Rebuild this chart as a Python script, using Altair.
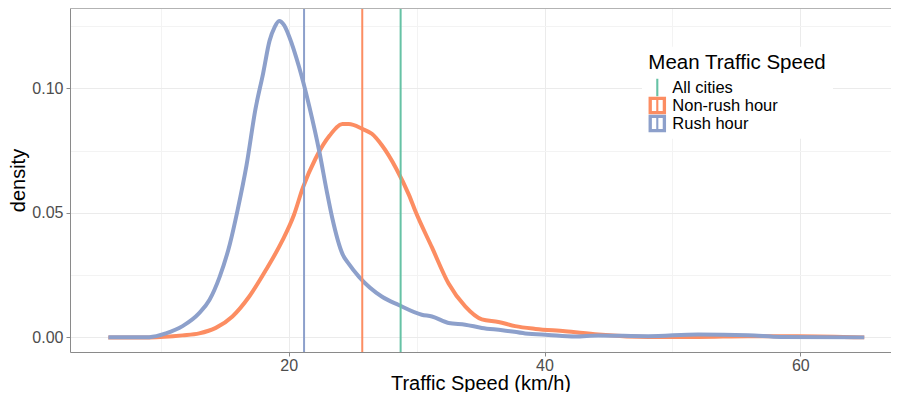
import altair as alt
import pandas as pd

# ---- data ----
series = ["All cities", "Non-rush hour", "Rush hour"]
colors = ["#66C2A5", "#FC8D62", "#8DA0CB"]

non_rush_speed = [5.9, 9.1, 11.7, 13.0, 14.3, 15.6, 16.9, 18.2, 19.5, 20.4, 21.1, 22.1, 23.2, 24.2,
                  24.7, 25.75, 26.5, 27.3, 28.4, 29.4, 29.9, 31.2, 32.5, 33.8, 35.1, 36.4, 37.7,
                  39.3, 41.6, 44.2, 48.1, 52.0, 55.9, 59.8, 65.0]
non_rush_density = [0.0, 0.0, 0.0008, 0.0016, 0.0038, 0.0084, 0.0163, 0.0269, 0.0388, 0.049, 0.06,
                    0.0718, 0.081, 0.0856, 0.0856, 0.0837, 0.0817, 0.077, 0.0678, 0.0572, 0.0507,
                    0.0361, 0.0216, 0.0124, 0.0072, 0.0062, 0.0045, 0.0034, 0.0025, 0.0012, 0.0002,
                    0.0002, 0.0005, 0.0005, 0.0]

rush_speed = [5.9, 9.1, 10.4, 11.7, 13.0, 13.8, 14.6, 15.4, 16.0, 16.7, 17.4, 18.0, 18.5, 18.9,
              19.25, 19.65, 20.05, 20.8, 21.6, 22.4, 23.0, 23.4, 24.2, 24.7, 25.5, 27.3, 28.6, 30.4,
              31.2, 32.5, 33.8, 35.1, 36.7, 38.5, 40.3, 42.4, 44.2, 48.1, 52.0, 55.9, 58.5, 65.0]
rush_density = [0.0, 0.0001, 0.0016, 0.0045, 0.0097, 0.015, 0.0243, 0.0375, 0.051, 0.069, 0.0916,
                0.106, 0.119, 0.1245, 0.127, 0.1252, 0.1206, 0.1087, 0.0929, 0.0744, 0.058, 0.048,
                0.0335, 0.0295, 0.0243, 0.0163, 0.013, 0.0091, 0.0084, 0.0058, 0.0051, 0.0038,
                0.0029, 0.0016, 0.001, 0.0004, 0.0008, 0.0005, 0.0012, 0.0009, 0.0002, 0.0]

mean_speed = [28.75, 25.75, 21.2]  # All cities, Non-rush hour, Rush hour

x_ticks = [10, 20, 30, 40, 50, 60]
y_ticks = [0.0, 0.025, 0.05, 0.075, 0.10, 0.125]

dens = pd.DataFrame({
    "speed": non_rush_speed + rush_speed,
    "density": non_rush_density + rush_density,
    "group": ["Non-rush hour"] * len(non_rush_speed) + ["Rush hour"] * len(rush_speed),
})
means = pd.DataFrame({"group": series, "mean": mean_speed})
legend_df = pd.DataFrame({"group": series})
one_row = pd.DataFrame({"k": [0]})

# ---- styling ----
FONT = "Liberation Sans"
W, H = 821, 344

x_scale = alt.Scale(domain=[2.9, 67.09], nice=False, zero=False)
y_scale = alt.Scale(domain=[-0.00587, 0.1322], nice=False, zero=False)
stroke_scale = alt.Scale(domain=series, range=colors)

minor_x = "datum.value % 20 != 0"
minor_y = "round(datum.value * 1000) % 50 != 0"

x_axis = alt.Axis(
    values=x_ticks, title="Traffic Speed (km/h)",
    labelExpr="datum.value % 20 == 0 ? datum.label : ''",
    tickOpacity={"condition": {"test": minor_x, "value": 0}, "value": 1},
    gridColor={"condition": {"test": minor_x, "value": "#F3F3F3"}, "value": "#EBEBEB"},
    labelPadding=1, titlePadding=0,
)
y_axis = alt.Axis(
    values=y_ticks, title="density", format=".2f",
    labelExpr="round(datum.value * 1000) % 50 == 0 ? datum.label : ''",
    tickOpacity={"condition": {"test": minor_y, "value": 0}, "value": 1},
    gridColor={"condition": {"test": minor_y, "value": "#F3F3F3"}, "value": "#EBEBEB"},
    labelPadding=3, titlePadding=3,
)

box_path = "M-1,-1H1V1H-1Z M-0.62,-0.62V0.62H-0.12V-0.62Z M0.12,-0.62V0.62H0.62V-0.62Z"
line_path = "M-0.12,-1H0.12V1H-0.12Z"

leg = alt.Legend(
    title="Mean Traffic Speed", orient="none", legendX=572, legendY=38.7,
    padding=6.3, fillColor="white",
    titleFont=FONT, titleFontSize=20.5, titleFontWeight="normal", titleColor="black",
    titlePadding=5, titleAnchor="start",
    labelFont=FONT, labelFontSize=16.5, labelColor="black", labelOffset=6,
    symbolSize=306, symbolStrokeWidth=0, symbolOpacity=1, rowPadding=0,
)

legend_layer = alt.Chart(legend_df).mark_point(filled=True, opacity=0).encode(
    fill=alt.Fill("group:N", scale=alt.Scale(domain=series, range=colors), legend=leg),
    shape=alt.Shape("group:N", scale=alt.Scale(domain=series, range=[line_path, box_path, box_path]), legend=leg),
)

lines = alt.Chart(dens).mark_line(strokeWidth=4, interpolate="monotone", strokeCap="butt").encode(
    x=alt.X("speed:Q", scale=x_scale, axis=x_axis),
    y=alt.Y("density:Q", scale=y_scale, axis=y_axis),
    stroke=alt.Stroke("group:N", scale=stroke_scale, legend=None),
)

rules = alt.Chart(means).mark_rule(strokeWidth=2).encode(
    x=alt.X("mean:Q", scale=x_scale, axis=x_axis),
    stroke=alt.Stroke("group:N", scale=stroke_scale, legend=None),
)

border = alt.Chart(one_row).mark_rule(color="#B3B3B3", strokeWidth=1).encode(
    x=alt.value(0), x2=alt.value(W), y=alt.value(0.5)
)

chart = alt.layer(legend_layer, lines, rules, border).properties(
    width=W, height=H,
    padding={"left": 62, "top": 0, "right": 0, "bottom": 40},
    autosize=alt.AutoSizeParams(type="none"),
).configure_view(stroke="transparent", strokeWidth=0).configure_axis(
    domainColor="#8A8A8A", tickColor="#8A8A8A", tickSize=4, gridWidth=1,
    labelFont=FONT, labelFontSize=16, labelColor="#4D4D4D",
    titleFont=FONT, titleFontSize=20, titleFontWeight="normal", titleColor="black",
)

chart.save("out.html", embed_options={"renderer": "svg", "actions": False})
